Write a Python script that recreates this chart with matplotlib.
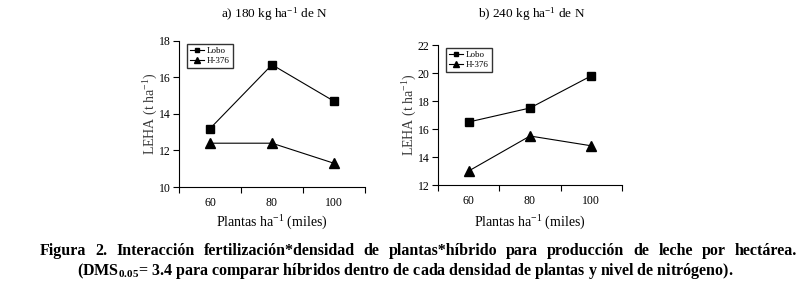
import matplotlib.pyplot as plt

plantas = [60, 80, 100]
lobo_180 = [13.2, 16.7, 14.7]
h376_180 = [12.4, 12.4, 11.3]
lobo_240 = [16.5, 17.5, 19.8]
h376_240 = [13.0, 15.5, 14.8]

plt.rcParams['font.family'] = 'Liberation Serif'
plt.rcParams['mathtext.fontset'] = 'custom'
plt.rcParams['mathtext.rm'] = 'Liberation Serif'
plt.rcParams['mathtext.it'] = 'Liberation Serif:italic'
plt.rcParams['mathtext.bf'] = 'Liberation Serif:bold'

fig = plt.figure(figsize=(8.1, 2.87), dpi=100)
W, H = 810, 287


def px(x, y):
    # pixel coords (from top-left) -> figure fraction
    return x / W, 1 - y / H


def panel(rect, lobo, h376, ylim, yticks, title, ylab_x):
    x0, y0, x1, y1 = rect
    ax = fig.add_axes([x0 / W, 1 - y1 / H, (x1 - x0) / W, (y1 - y0) / H])
    pos = range(1, len(plantas) + 1)
    ax.plot(pos, lobo, color='black', lw=0.8, marker='s', ms=6, label='Lobo')
    ax.plot(pos, h376, color='black', lw=0.8, marker='^', ms=6.5, label='H-376')
    ax.set_xlim(0.5, 3.5)
    ax.set_ylim(*ylim)
    ax.set_yticks(yticks)
    ax.set_xticks([0.5, 1.5, 2.5, 3.5])
    ax.set_xticklabels([])
    ax.set_xticks(list(pos), minor=True)
    ax.set_xticklabels([str(p) for p in plantas], minor=True)
    ax.tick_params(axis='x', which='minor', length=0, pad=7, labelsize=8.5)
    ax.tick_params(axis='x', which='major', length=4, width=0.8)
    ax.tick_params(axis='y', length=4, width=0.8, pad=2, labelsize=8.5)
    for s in ['top', 'right']:
        ax.spines[s].set_visible(False)
    for s in ['left', 'bottom']:
        ax.spines[s].set_linewidth(0.8)
    cx = (x0 + x1) / 2
    fig.text(*px(ylab_x, (y0 + y1) / 2), 'LEHA (t ha$^{-1}$)', rotation=90,
             ha='center', va='center', fontsize=10, color='#3a3a3a')
    fig.text(*px(cx, 223), 'Plantas ha$^{-1}$ (miles)', ha='center', va='center', fontsize=10)
    fig.text(*px(cx + 2, 14), title, ha='center', va='center', fontsize=9.5)
    ax.legend(loc='upper left', bbox_to_anchor=(0.03, 1.0), fontsize=6.5, frameon=True,
              fancybox=False, edgecolor='black', handlelength=1.6, handletextpad=0.3,
              borderpad=0.3, labelspacing=0.25, markerscale=0.6, borderaxespad=0.3)
    return ax


panel((179, 41, 365, 187), lobo_180, h376_180, (10, 18), [10, 12, 14, 16, 18],
      'a) 180 kg ha$^{-1}$ de N', 151)
panel((438, 45, 622, 185), lobo_240, h376_240, (12, 22), [12, 14, 16, 18, 20, 22],
      'b) 240 kg ha$^{-1}$ de N', 410)

# caption line 1 is justified: place words spread between x=40 and x=797
line1 = 'Figura 2. Interacción fertilización*densidad de plantas*híbrido para producción de leche por hectárea.'
words = line1.split(' ')
fig.canvas.draw()
renderer = fig.canvas.get_renderer()
texts = [fig.text(0, 0, w, fontsize=11.5, fontweight='bold', va='center') for w in words]
widths = [t.get_window_extent(renderer).width for t in texts]
gap = (797 - 40 - sum(widths)) / (len(words) - 1)
x = 40
for t, w in zip(texts, widths):
    t.set_position(px(x, 251))
    x += w + gap

fig.text(*px(405, 271), '(DMS$_{\\mathbf{0.05}}$= 3.4 para comparar híbridos dentro de cada densidad de plantas y nivel de nitrógeno).',
         ha='center', va='center', fontsize=11.5, fontweight='bold')

fig.savefig('out.png', dpi=100)
